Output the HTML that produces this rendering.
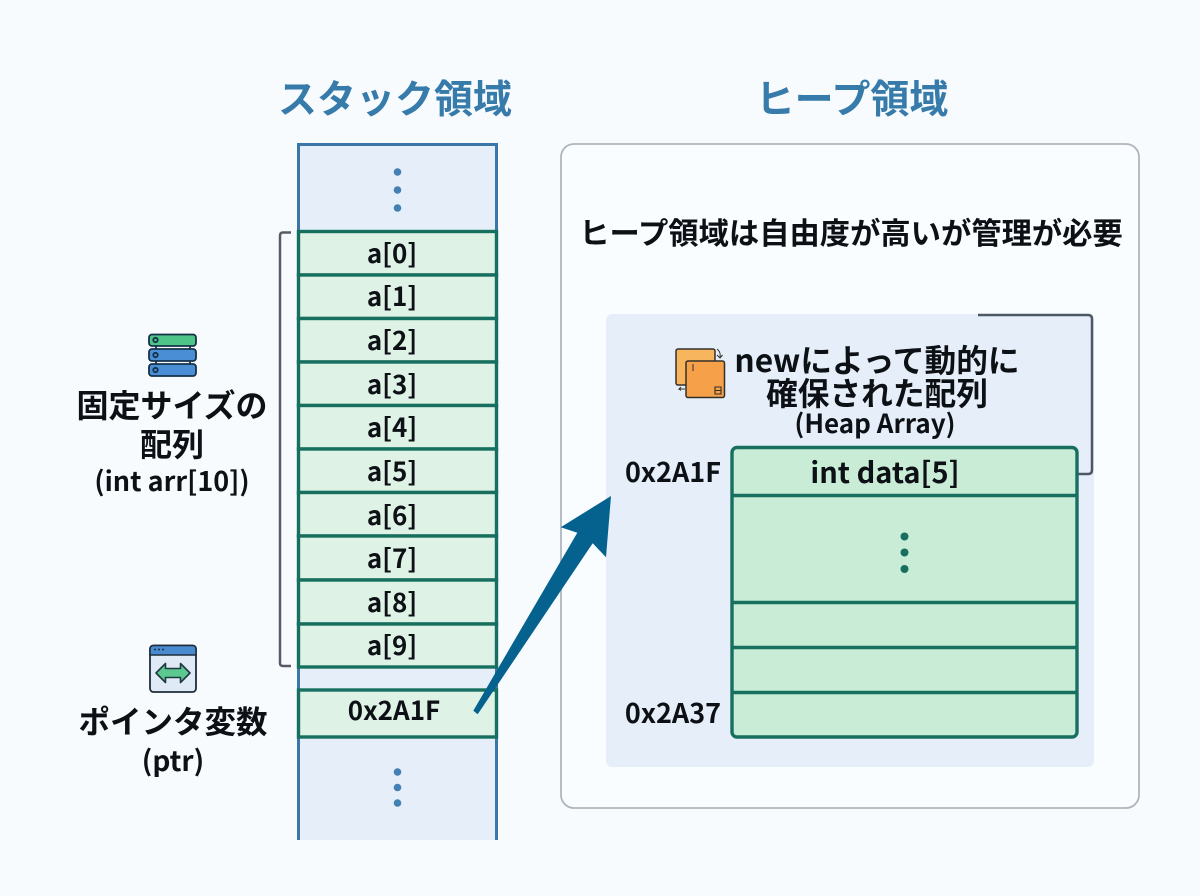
<!DOCTYPE html>
<html lang="ja"><head><meta charset="utf-8"><title>スタック領域とヒープ領域</title>
<style>html,body{margin:0;padding:0;background:#f8fbfe}svg{display:block}
text{font-family:"Noto Sans CJK JP","Liberation Sans",sans-serif;fill:#0d1116;text-anchor:middle;font-weight:700}</style></head>
<body>
<svg width="1200" height="896" viewBox="0 0 1200 896" xmlns="http://www.w3.org/2000/svg">
<rect width="1200" height="896" fill="#f8fbfe"/>
<text x="395" y="113" font-size="39" style="fill:#377bab">スタック領域</text>
<text x="852" y="113" font-size="39" style="fill:#377bab">ヒープ領域</text>

<!-- stack -->
<rect x="299" y="145" width="197" height="695" fill="#e6eff9"/>
<path d="M298.500 840V144.500H496.500V840" fill="none" stroke="#3a77a8" stroke-width="3"/>
<g fill="#dff2e6" stroke="#17705f" stroke-width="3.400">
<rect x="298.500" y="231.500" width="198" height="43.500"/>
<rect x="298.500" y="275" width="198" height="43.500"/>
<rect x="298.500" y="318.500" width="198" height="43.500"/>
<rect x="298.500" y="362" width="198" height="43.500"/>
<rect x="298.500" y="405.500" width="198" height="43.500"/>
<rect x="298.500" y="449" width="198" height="43.500"/>
<rect x="298.500" y="492.500" width="198" height="43.500"/>
<rect x="298.500" y="536" width="198" height="44"/>
<rect x="298.500" y="580" width="198" height="44"/>
<rect x="298.500" y="624" width="198" height="43"/>
<rect x="298.500" y="690" width="198" height="47"/>
</g>
<g fill="#4381b5">
<circle cx="397.500" cy="172" r="3.800"/><circle cx="397.500" cy="190" r="3.800"/><circle cx="397.500" cy="208" r="3.800"/>
<circle cx="397.500" cy="772" r="3.800"/><circle cx="397.500" cy="787.500" r="3.800"/><circle cx="397.500" cy="803" r="3.800"/>
</g>
<g font-size="26">
<text x="392" y="263">a[0]</text><text x="392" y="306">a[1]</text><text x="392" y="350">a[2]</text>
<text x="392" y="394">a[3]</text><text x="392" y="437">a[4]</text><text x="392" y="481">a[5]</text>
<text x="392" y="525">a[6]</text><text x="392" y="568">a[7]</text><text x="392" y="612">a[8]</text>
<text x="392" y="655">a[9]</text>
<text x="394" y="720" font-size="26">0x2A1F</text>
</g>
<path d="M291 232.500H283Q280 232.500 280 235.500V663Q280 666 283 666H291" fill="none" stroke="#565c66" stroke-width="2.500"/>

<!-- left labels -->
<g stroke="#15324a" stroke-width="1.800">
<path d="M156 345v6M190 345v6M156 359v6M190 359v6" fill="none"/>
<rect x="149" y="334.500" width="47" height="11.500" rx="3" fill="#4fc488"/>
<rect x="149" y="349" width="47" height="12" rx="3" fill="#4a8fd6"/>
<rect x="149" y="364" width="47" height="12" rx="3" fill="#4a8fd6"/>
<circle cx="155.500" cy="340" r="2.200" fill="none"/><circle cx="155.500" cy="355" r="2.200" fill="none"/><circle cx="155.500" cy="370" r="2.200" fill="none"/>
</g>
<text x="172" y="417" font-size="32">固定サイズの</text>
<text x="172" y="456" font-size="32">配列</text>
<text x="172" y="491" font-size="27">(int arr[10])</text>

<rect x="150" y="645.500" width="46" height="46.500" rx="3.500" fill="#dfeaf6" stroke="#1e2c3a" stroke-width="1.800"/>
<path d="M150 655v-6q0-3.500 3.500-3.500h39q3.500 0 3.500 3.500v6z" fill="#4a8ad0" stroke="#1e2c3a" stroke-width="1.500"/>
<g fill="#14304a"><circle cx="155" cy="649.500" r="1"/><circle cx="159" cy="649.500" r="1"/><circle cx="163" cy="649.500" r="1"/></g>
<path d="M156 673l9.500-9.500v5h15v-5l9.500 9.500-9.500 9.500v-5h-15v5z" fill="#5cc890" stroke="#1e3a40" stroke-width="1.600" stroke-linejoin="round"/>
<text x="173" y="733" font-size="31.500">ポインタ変数</text>
<text x="173" y="771" font-size="28">(ptr)</text>

<!-- heap -->
<rect x="561" y="144" width="578" height="664" rx="13" fill="#fafdff" stroke="#aeb6bd" stroke-width="1.800"/>
<text x="851" y="244" font-size="30.300">ヒープ領域は自由度が高いが管理が必要</text>
<rect x="606" y="314" width="488" height="453" rx="6" fill="#e6eff9"/>
<path d="M978 315H1088Q1092 315 1092 319V470Q1092 474 1088 474H1078" fill="none" stroke="#4d5865" stroke-width="2.500"/>

<rect x="732" y="447.500" width="345" height="289.500" rx="5" fill="#c9ecd7" stroke="#17705f" stroke-width="3.400"/>
<path d="M732 495.500H1077M732 602.500H1077M732 647.500H1077M732 692.500H1077" stroke="#17705f" stroke-width="3.400" fill="none"/>
<g fill="#17705f"><circle cx="904.500" cy="536.500" r="4"/><circle cx="904.500" cy="552.500" r="4"/><circle cx="904.500" cy="569" r="4"/></g>

<rect x="676" y="349" width="39" height="36" rx="2" fill="#f7b55e" stroke="#33302a" stroke-width="1.500"/>
<rect x="686" y="361" width="38.500" height="36.500" rx="2" fill="#f6a04a" stroke="#33302a" stroke-width="1.500"/>
<path d="M717 349q4 3 3 8m-3-2l3 3 2.500-3M685 389h-6l2-2m-2 2 2 1.500M693 364v7" fill="none" stroke="#33302a" stroke-width="1"/>
<path d="M715 387h6v7h-6zM715 390.500h6" fill="none" stroke="#33302a" stroke-width="1.100"/>

<text x="877" y="372" font-size="31.700">newによって動的に</text>
<text x="877" y="405" font-size="31.700">確保された配列</text>
<text x="875" y="433" font-size="26">(Heap Array)</text>
<text x="673" y="482" font-size="27">0x2A1F</text>
<text x="673" y="723" font-size="27">0x2A37</text>
<text x="885" y="483" font-size="29">int data[5]</text>

<polygon points="473.300,710.700 477.700,714.300 592.700,543.300 606,557.300 611,496 560.700,527.300 577.300,532.700" fill="#05628f"/>
</svg>
</body></html>
